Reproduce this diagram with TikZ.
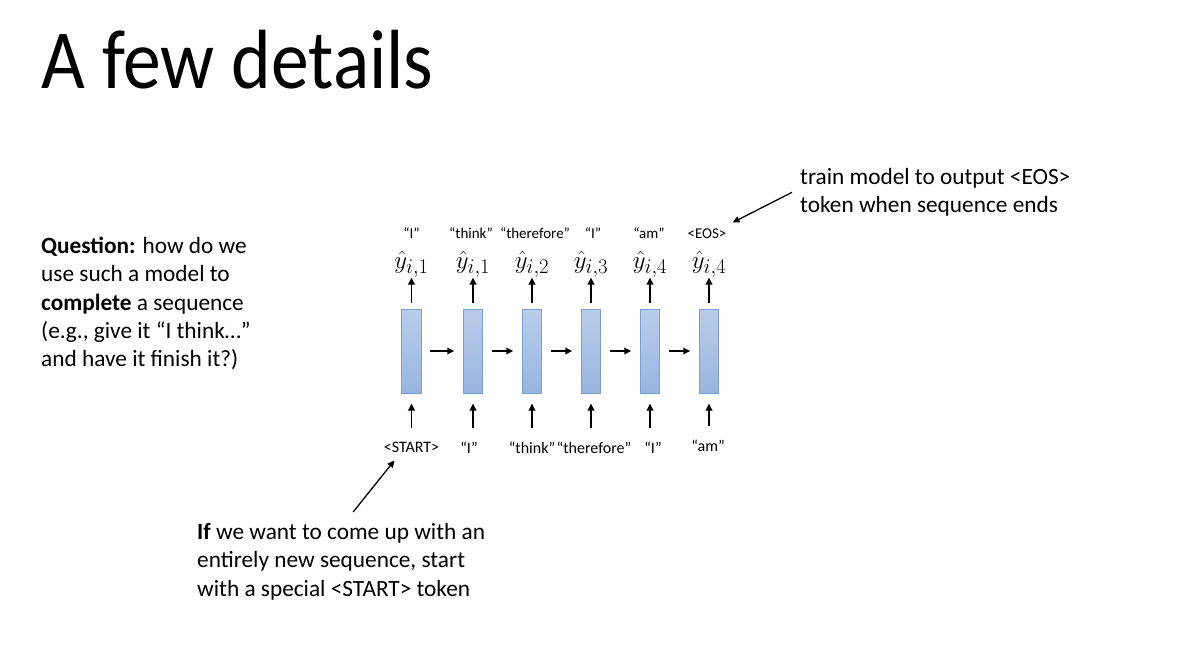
\documentclass[tikz,border=0pt]{standalone}
\usepackage{fontspec}
\setmainfont{Carlito}
\newfontfamily\titlefont[FakeStretch=0.9]{Carlito}
\usetikzlibrary{arrows.meta,positioning}

\definecolor{celltop}{HTML}{B9CDEA}
\definecolor{cellbot}{HTML}{98B5DF}
\definecolor{celledge}{HTML}{7A9FD4}

\begin{document}
\begin{tikzpicture}[
    x=1pt, y=-1pt,
    node distance=38.5pt,
    cell/.style={draw=celledge, line width=1pt, top color=celltop, bottom color=cellbot, minimum width=19.5pt, minimum height=84pt, inner sep=0pt},
    yhat/.style={inner sep=0pt, font=\fontsize{31}{37}\selectfont},
    word/.style={inner sep=0pt, font=\fontsize{15}{18}\selectfont},
    inword/.style={inner sep=0pt, font=\fontsize{16}{19}\selectfont},
    note/.style={inner sep=0pt, align=left, font=\fontsize{23.3}{28.3}\selectfont},
    arrow/.style={-{Triangle[length=7pt,width=6.5pt]}, line width=1.7pt}
]
\useasboundingbox (0,0) rectangle (1201,651);

\node[anchor=base west, inner sep=0pt, font=\titlefont\fontsize{84}{100}\selectfont] (title) at (41,88) {A few details};

% recurrent cells
\node[cell] (h1) at (411.5,351) {};
\node[cell, right=41pt of h1] (h2) {};
\node[cell, right=of h2] (h3) {};
\node[cell, right=of h3] (h4) {};
\node[cell, right=of h4] (h5) {};
\node[cell, right=of h5] (h6) {};

% predictions
\node[yhat, above=31pt of h1] (y1) {$\hat{y}_{i,1}$};
\node[yhat, above=31pt of h2] (y2) {$\hat{y}_{i,1}$};
\node[yhat, above=31pt of h3] (y3) {$\hat{y}_{i,2}$};
\node[yhat, above=31pt of h4] (y4) {$\hat{y}_{i,3}$};
\node[yhat, above=31pt of h5] (y5) {$\hat{y}_{i,4}$};
\node[yhat, above=31pt of h6] (y6) {$\hat{y}_{i,4}$};

\node[word, above=12pt of y1] (o1) {``I''};
\node[word, above=12pt of y2, xshift=-2pt] (o2) {``think''};
\node[word, above=12pt of y3, xshift=3pt] (o3) {``therefore''};
\node[word, above=12pt of y4, xshift=2pt] (o4) {``I''};
\node[word, above=12pt of y5, xshift=-1pt] (o5) {``am''};
\node[word, above=12pt of y6, xshift=-2pt] (o6) {<EOS>};

% inputs
\node[inword, below=48pt of h1] (w1) {<START>};
\node[inword, below=48pt of h2, xshift=-4pt] (w2) {``I''};
\node[inword, below=48pt of h3] (w3) {``think''};
\node[inword, below=48pt of h4, xshift=3pt] (w4) {``therefore''};
\node[inword, below=48pt of h5, xshift=3pt] (w5) {``I''};
\node[inword, below=46pt of h6, xshift=-1pt] (w6) {``am''};

\foreach \i in {1,...,6} {
  \draw[arrow, shorten <=14pt, shorten >=10pt] (w\i.north -| h\i.south) -- (h\i.south);
  \draw[arrow, shorten <=6pt, shorten >=0pt] (h\i.north) -- (y\i.south -| h\i.north);
}
\foreach \i/\j in {1/2,2/3,3/4,4/5,5/6}
  \draw[arrow, shorten <=8.5pt, shorten >=8.5pt] (h\i.east) -- (h\j.west);

% side notes
\node[note, anchor=north west] (question) at (41,237) {\textbf{Question:} how do we\\use such a model to\\\textbf{complete} a sequence\\(e.g., give it “I think…”\\and have it finish it?)};
\node[note, anchor=north west] (eosnote) at (800,168) {train model to output <EOS>\\token when sequence ends};
\node[note, anchor=north west] (startnote) at (197,523) {\textbf{If} we want to come up with an\\entirely new sequence, start\\with a special <START> token};

\draw[arrow, line width=1.3pt] ([shift={(-8,0)}]eosnote.west) -- ([shift={(6,-6)}]o6.north east);
\draw[arrow, line width=1.3pt] ([shift={(12,-11)}]startnote.north) -- ([shift={(-17,8)}]w1.south);
\end{tikzpicture}
\end{document}
